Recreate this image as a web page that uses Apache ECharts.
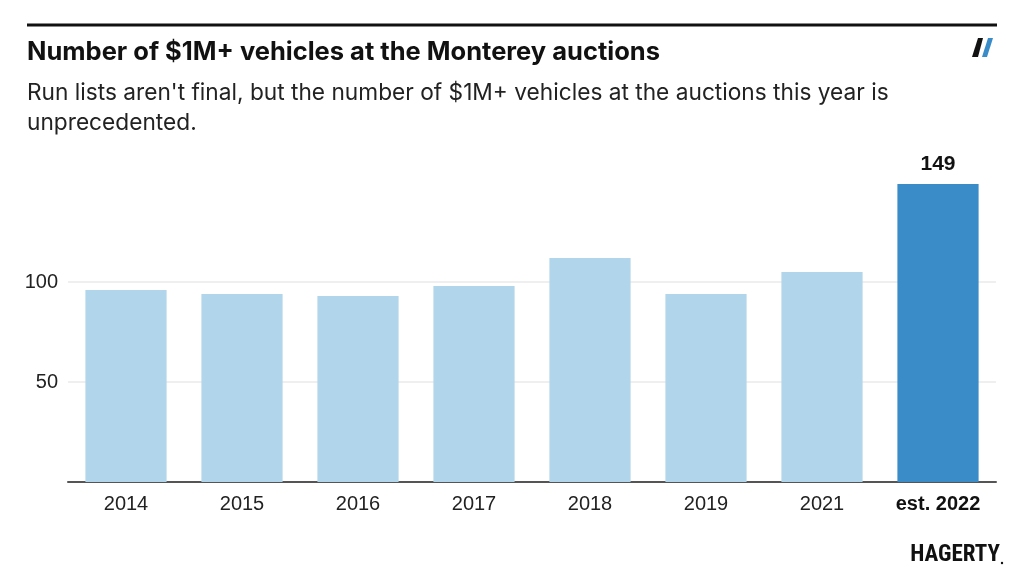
<!DOCTYPE html>
<html><head><meta charset="utf-8">
<script src="https://cdn.jsdelivr.net/npm/echarts@6/dist/echarts.min.js"></script>
<style>html,body{margin:0;padding:0;background:#fff}#c{width:1024px;height:585px}</style>
</head><body><div id="c"></div>
<script>
const categories = ['2014','2015','2016','2017','2018','2019','2021','est. 2022'];
const values = [96, 94, 93, 98, 112, 94, 105, 149];
const yTicks = [0, 50, 100, 150];

const light = '#b1d6eb', dark = '#3a8cc8';
const FONT = '"Liberation Sans", Arial, Helvetica, sans-serif';
const TFONT = 'Inter, "Liberation Sans", Arial, sans-serif';
const chart = echarts.init(document.getElementById('c'));
chart.setOption({
  animation: false,
  textStyle: { fontFamily: FONT },
  grid: { left: 68, right: 28, top: 182, bottom: 103, containLabel: false },
  xAxis: {
    type: 'category', data: categories,
    axisLine: { lineStyle: { color: '#555', width: 2 } },
    axisTick: { show: false },
    axisLabel: {
      interval: 0, margin: 12, color: '#222', fontSize: 20, fontFamily: FONT,
      formatter: v => v.startsWith('est') ? '{b|' + v + '}' : v,
      rich: { b: { fontWeight: 'bold', fontSize: 20, color: '#111', fontFamily: FONT } }
    }
  },
  yAxis: {
    type: 'value', min: yTicks[0], max: yTicks[yTicks.length - 1], interval: 50,
    axisLine: { show: false }, axisTick: { show: false },
    axisLabel: {
      margin: 10, color: '#222', fontSize: 20, fontFamily: FONT,
      formatter: v => (v === 0 || v === 150) ? '' : String(v)
    },
    splitLine: { lineStyle: { color: ['#eaeaea', '#eaeaea', '#eaeaea', 'rgba(0,0,0,0)'], width: 1.5 } }
  },
  series: [{
    type: 'bar', barCategoryGap: '30%',
    data: values.map((v, i) => ({
      value: v,
      itemStyle: { color: i === values.length - 1 ? dark : light },
      label: i === values.length - 1 ? { show: true, position: 'top', distance: 9, fontWeight: 'bold', fontSize: 21, color: '#111', fontFamily: FONT } : { show: false }
    }))
  }],
  graphic: [
    { type: 'rect', shape: { x: 27, y: 23.5, width: 970, height: 3 }, style: { fill: '#111' } },
    { type: 'text', left: 27, top: 39, style: { text: 'Number of $1M+ vehicles at the Monterey auctions', font: 'bold 25.5px ' + TFONT, fill: '#111' } },
    { type: 'text', left: 27, top: 78, style: { text: "Run lists aren't final, but the number of $1M+ vehicles at the auctions this year is\nunprecedented.", font: '22.7px ' + TFONT, fill: '#222', lineHeight: 30 } },
    { type: 'polygon', shape: { points: [[972, 57], [978, 57], [983, 38], [978, 38]] }, style: { fill: '#111' } },
    { type: 'polygon', shape: { points: [[982, 57], [987, 57], [993, 38], [988, 38]] }, style: { fill: '#3a8cc8' } },
    { type: 'text', right: 24, top: 544, style: { text: 'HAGERTY', font: 'bold 23px "Liberation Sans Narrow", "Roboto Condensed", ' + FONT, fill: '#111' } },
    { type: 'circle', shape: { cx: 1002, cy: 563, r: 1.2 }, style: { fill: '#111' } }
  ]
});
</script></body></html>
